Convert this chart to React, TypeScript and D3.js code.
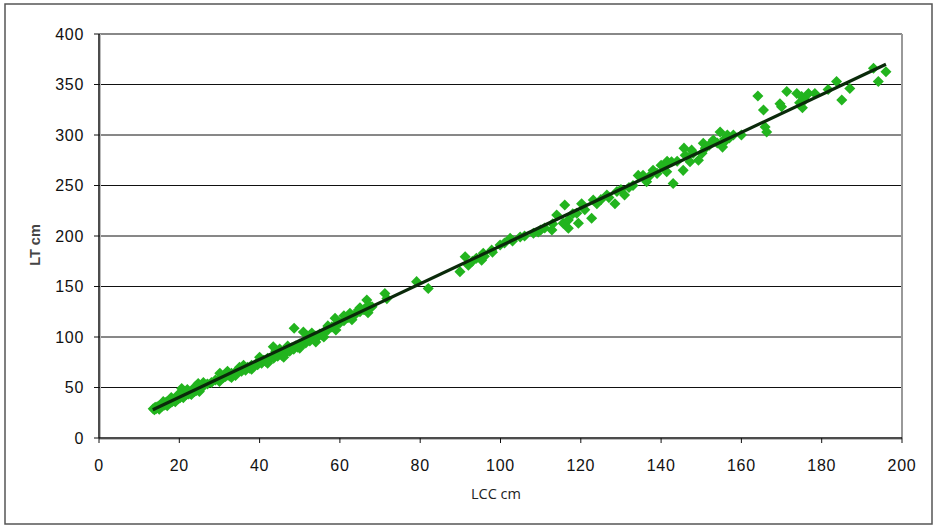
import React from "react";
import * as d3 from "d3";

const xTicks = [0, 20, 40, 60, 80, 100, 120, 140, 160, 180, 200];
const yTicks = [0, 50, 100, 150, 200, 250, 300, 350, 400];

// LCC (cm) values of the sampled individuals
const lcc: number[] = [
  13.5, 13.8, 14, 14.2, 14.5, 14.8, 15, 15.2, 15.5, 15.7, 16, 16.2, 16.5, 16.7, 17, 17.2, 17.5, 17.8, 18, 18.2,
  18.5, 18.7, 19, 19.2, 19.5, 19.8, 20, 20.2, 20.5, 20.6, 20.8, 21, 21.3, 21.5, 21.8, 22, 22.3, 22.5, 22.8, 23,
  23.3, 23.5, 23.8, 24, 24.3, 24.7, 24.5, 25, 25.3, 25.7, 26,
  15, 16, 17, 18, 19, 20, 21, 22, 23, 24, 25, 26,
  27, 28, 29, 30, 30.1, 31, 31.5, 32, 32.5, 33, 33.5, 34, 34.5, 35, 35.5, 36, 36.5, 37, 37.5, 38, 38.5, 39, 39.5,
  40, 40.5, 41, 41.5, 42, 42.5, 43, 43.4, 43.5, 44, 44.5, 45, 45.5, 46, 46.5, 47, 47.5, 48, 48.6, 48.5, 49, 49.5,
  50, 50.9, 50.5, 51, 51.5, 52, 52.5, 53, 53.5, 54, 54.5, 55, 55.5, 56, 57, 58, 58.8, 59, 60, 61, 62, 62.5, 63,
  64, 64.6, 65, 66, 66.7, 67.1, 68, 71.2, 71.7, 79.1, 82,
  30, 32, 33, 34, 35, 36, 38, 40, 42, 44, 45, 46, 47, 50, 52, 53, 54, 56, 57, 59, 61, 63, 65, 67,
  89.9, 91.2, 92, 93, 94, 95.3, 95.7, 96, 97.8, 98, 99.9, 101, 102.4, 103, 104.9, 106, 108.2, 109.4, 110, 111,
  112.8, 113, 114, 115.6, 116, 116.9, 116.9, 118, 119, 119.4, 120.2, 121, 122.7, 123.1, 124, 125, 126.5, 127,
  128.5, 129, 130, 130.9, 132, 133, 134.3, 135.5, 136.4, 137, 138, 139, 140, 141.4, 141.4, 141.5, 142.6, 143,
  144, 145.5, 145.7, 146, 147.2, 147.6, 148, 149.3, 150.2, 150.5, 151, 152, 153, 154, 154.7, 155.3, 155.8,
  156, 156.5, 157, 158, 160, 164.1, 165.5, 165.9, 166.3, 169.6, 170, 171.3, 173.8, 174.5, 175, 175.2, 175.8,
  176.7, 178.3, 181.6, 183.7, 185, 187, 192.9, 194.1, 196,
];

// LT (cm) values, same order as lcc
const lt: number[] = [
  29, 28, 30.5, 29, 31, 30, 32, 31, 33, 31.5, 33.5, 32.5, 35, 33, 36, 34.5, 36.5, 35, 37.5, 36,
  38.5, 37, 39, 38, 40.5, 39, 41.5, 40, 43, 49, 41, 43.5, 42, 44, 43, 45, 43.5, 45.5, 44, 46,
  45, 47.5, 46, 48, 47, 54, 49, 50, 48.5, 51, 52,
  28.5, 36, 32, 40, 36, 44, 40, 48, 43, 51, 46, 55,
  53.5, 55, 57.5, 58, 64, 60, 61, 62.5, 61.5, 64, 63, 65.5, 65, 67, 66, 68.5, 67, 70, 69, 72, 71, 73, 72.5,
  75, 74, 77, 76, 79, 77.5, 80, 90.4, 79, 82, 81, 83.5, 82, 85, 84, 87, 86, 89, 108.6, 88, 91, 90,
  93, 105, 92, 95, 94, 97, 96, 99, 98, 101, 100, 103, 102, 105, 107, 110, 118.5, 112, 114, 116, 119, 123.5, 121,
  123, 126.7, 125, 127, 136.6, 131.7, 130, 143, 138, 154.8, 148,
  56, 66, 60, 62, 70, 72, 68, 80, 74, 86, 88, 80, 91, 89, 101, 104, 95, 100, 111, 107, 121, 117, 129, 124,
  164.7, 179.5, 171, 175, 178, 176, 183, 180, 186, 184, 191, 193, 197.7, 195, 199, 200, 202.7, 204, 206, 208,
  206, 212, 220.8, 212.6, 230.7, 215.8, 207.6, 222, 222.5, 212.6, 232, 226, 217.5, 235.6, 232, 236, 240.6, 238,
  232, 244, 246, 240.6, 248, 250, 260, 260, 253.8, 259, 265, 262, 270, 272, 263.7, 274, 273.6, 252,
  274, 265, 287, 280, 273.6, 285, 282, 275, 282, 291.8, 287, 290, 295, 292, 303, 288, 296,
  294, 300, 297, 300, 300, 338.6, 324.8, 308, 303, 331, 328, 343, 341, 332, 338, 327, 335,
  341, 341, 345, 353, 334.7, 346, 366, 353, 362.7,
];

// Linear trend line endpoints (LCC, LT)
const trendX = [13.4, 196];
const trendY = [28, 370];

const W = 937;
const H = 527;
const plot = { left: 99, right: 902, top: 34, bottom: 438 };

export default function App() {
  const x = d3.scaleLinear().domain([0, 200]).range([plot.left, plot.right]);
  const y = d3.scaleLinear().domain([0, 400]).range([plot.bottom, plot.top]);
  const diamond = d3.symbol().type(d3.symbolDiamond2).size(78)();
  const trend = d3
    .line<number>()
    .x((_, i) => x(trendX[i]))
    .y((_, i) => y(trendY[i]))(trendX);
  const font = "'Liberation Sans', Arial, sans-serif";

  return (
    <svg
      width={W}
      height={H}
      style={{ position: "absolute", left: 0, top: 0, background: "#fff" }}
      fontFamily={font}
    >
      <rect x={5} y={4} width={927} height={520} fill="#fff" stroke="#555" strokeWidth={1.5} />
      {yTicks.slice(1, -1).map((t) => (
        <line key={"g" + t} x1={plot.left} x2={plot.right} y1={y(t)} y2={y(t)} stroke="#111" strokeWidth={1} />
      ))}
      <line x1={plot.left} x2={plot.right} y1={plot.top} y2={plot.top} stroke="#888" strokeWidth={2} />
      <line x1={plot.right} x2={plot.right} y1={plot.top} y2={plot.bottom} stroke="#999" strokeWidth={2} />
      <line x1={plot.left + 1.5} x2={plot.left + 1.5} y1={plot.top} y2={plot.bottom} stroke="#bbb" strokeWidth={1} />
      <line x1={plot.left} x2={plot.right} y1={plot.bottom + 1.5} y2={plot.bottom + 1.5} stroke="#bbb" strokeWidth={1} />
      <line x1={plot.left} x2={plot.left} y1={plot.top} y2={plot.bottom} stroke="#111" strokeWidth={1.5} />
      <line x1={plot.left} x2={plot.right} y1={plot.bottom} y2={plot.bottom} stroke="#111" strokeWidth={1.5} />
      {yTicks.map((t) => (
        <g key={"y" + t}>
          <line x1={plot.left - 5} x2={plot.left} y1={y(t)} y2={y(t)} stroke="#111" />
          <text x={84} y={y(t)} dy="0.36em" textAnchor="end" fontSize={16} letterSpacing={0.7} fill="#111">
            {t}
          </text>
        </g>
      ))}
      {xTicks.map((t) => (
        <g key={"x" + t}>
          <line x1={x(t)} x2={x(t)} y1={plot.bottom} y2={plot.bottom + 5} stroke="#111" />
          <text x={x(t)} y={471} textAnchor="middle" fontSize={16} letterSpacing={0.7} fill="#111">
            {t}
          </text>
        </g>
      ))}
      {lcc.map((v, i) => (
        <path key={"p" + i} d={diamond!} transform={`translate(${x(v)},${y(lt[i])})`} fill="#22b41e" />
      ))}
      <path d={trend!} fill="none" stroke="#0a2a0a" strokeWidth={3.2} />
      <text x={496} y={499} textAnchor="middle" fontSize={14.5} fill="#222" fontFamily="'Open Sans', sans-serif">
        LCC cm
      </text>
      <text
        transform={`translate(40,245) rotate(-90)`}
        textAnchor="middle"
        fontSize={14.5}
        fontWeight="bold"
        fill="#444"
      >
        LT cm
      </text>
    </svg>
  );
}
